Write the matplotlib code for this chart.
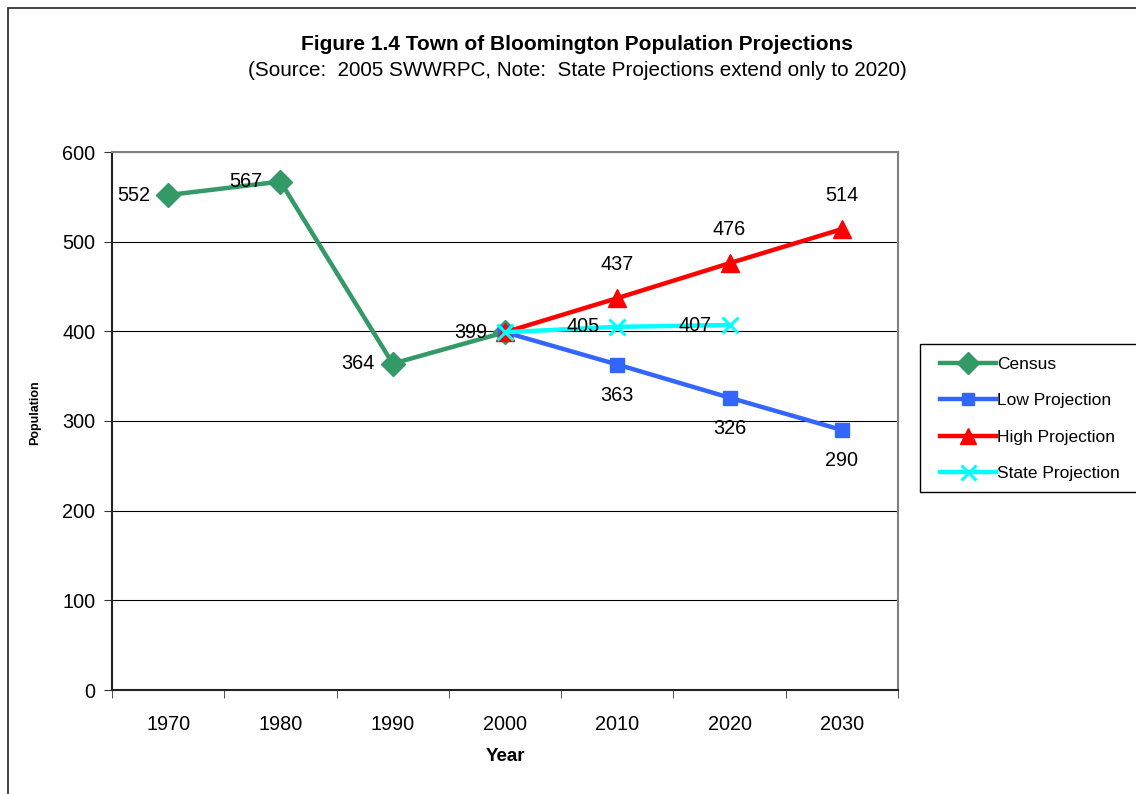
import matplotlib
matplotlib.use("Agg")
import matplotlib.pyplot as plt
from matplotlib.patches import Rectangle

plt.rcParams['font.family'] = ['Liberation Sans', 'DejaVu Sans']

years = ["1970", "1980", "1990", "2000", "2010", "2020", "2030"]
census = [552, 567, 364, 399]
low_proj = [399, 363, 326, 290]
high_proj = [399, 437, 476, 514]
state_proj = [399, 405, 407]

census_x = [0, 1, 2, 3]
proj_x = [3, 4, 5, 6]
state_x = [3, 4, 5]

W, H = 1136, 794
fig = plt.figure(figsize=(W / 100, H / 100), dpi=100)

# outer chart border (runs off the right/bottom like the original)
fig.patches.append(Rectangle((8 / W, -0.1), 1.2, 1 - 8 / H + 0.1, transform=fig.transFigure,
                             fill=False, edgecolor='#222222', linewidth=1.2))

ax = fig.add_axes([112 / W, 1 - 690 / H, 786 / W, 538 / H])

ax.plot(census_x, census, color='#339966', lw=3.2, marker='D', ms=12, label='Census', zorder=3)
ax.plot(proj_x, low_proj, color='#3366FF', lw=3.2, marker='s', ms=10, label='Low Projection', zorder=3)
ax.plot(proj_x, high_proj, color='#FF0000', lw=3.2, marker='^', ms=13, label='High Projection', zorder=3)
ax.plot(state_x, state_proj, color='#00FFFF', lw=3.2, marker='x', ms=12, mew=2.2, label='State Projection', zorder=3)

fs = 14.3
for x, v in zip(census_x, census):
    ax.annotate(str(v), (x, v), xytext=(-18, 0), textcoords='offset pixels',
                ha='right', va='center', fontsize=fs)
for x, v in zip(state_x[1:], state_proj[1:]):
    ax.annotate(str(v), (x, v), xytext=(-18, 0), textcoords='offset pixels',
                ha='right', va='center', fontsize=fs)
for x, v in zip(proj_x[1:], high_proj[1:]):
    ax.annotate(str(v), (x, v), xytext=(0, 34), textcoords='offset pixels',
                ha='center', va='center', fontsize=fs)
for x, v in zip(proj_x[1:], low_proj[1:]):
    ax.annotate(str(v), (x, v), xytext=(0, -31), textcoords='offset pixels',
                ha='center', va='center', fontsize=fs)

ax.set_xlim(-0.5, 6.5)
ax.set_ylim(0, 600)
ax.set_yticks(range(0, 601, 100))
ax.yaxis.grid(True, color='black', lw=0.8)
ax.set_axisbelow(True)

ax.set_xticks(range(7))
ax.set_xticklabels(years)
ax.set_xticks([i - 0.5 for i in range(8)], minor=True)
ax.tick_params(axis='x', which='major', length=0, pad=18, labelsize=fs)
ax.tick_params(axis='x', which='minor', length=6, direction='out', color='#333333')
ax.tick_params(axis='y', length=6, labelsize=fs, pad=6, color='#333333')

ax.spines['top'].set_color('#808080')
ax.spines['right'].set_color('#808080')
ax.spines['left'].set_color('#222222')
ax.spines['bottom'].set_color('#222222')
for s in ax.spines.values():
    s.set_linewidth(1.5)

ax.set_xlabel('Year', fontsize=13.5, fontweight='bold', labelpad=10)
ax.set_ylabel('Population', fontsize=9, fontweight='bold')
ax.yaxis.set_label_coords((41 - 112) / 786, (690 - 413) / 538)

fig.text(0.508, 1 - 44 / H, 'Figure 1.4 Town of Bloomington Population Projections',
         ha='center', va='center', fontsize=15, fontweight='bold')
fig.text(0.508, 1 - 70 / H, '(Source:  2005 SWWRPC, Note:  State Projections extend only to 2020)',
         ha='center', va='center', fontsize=14.9)

# legend box
fig.patches.append(Rectangle((920 / W, 1 - 492 / H), 0.3, 148 / H, transform=fig.transFigure,
                             fill=False, edgecolor='black', linewidth=1))
handles, labels = ax.get_legend_handles_labels()
fig.legend(handles, labels, loc='center left', bbox_to_anchor=(940 / W, 1 - 419 / H),
           frameon=False, fontsize=12.5, handlelength=3.2, handletextpad=0.1,
           labelspacing=1.22, borderaxespad=0, borderpad=0, markerscale=0.9)

fig.savefig('out.png', dpi=100)
